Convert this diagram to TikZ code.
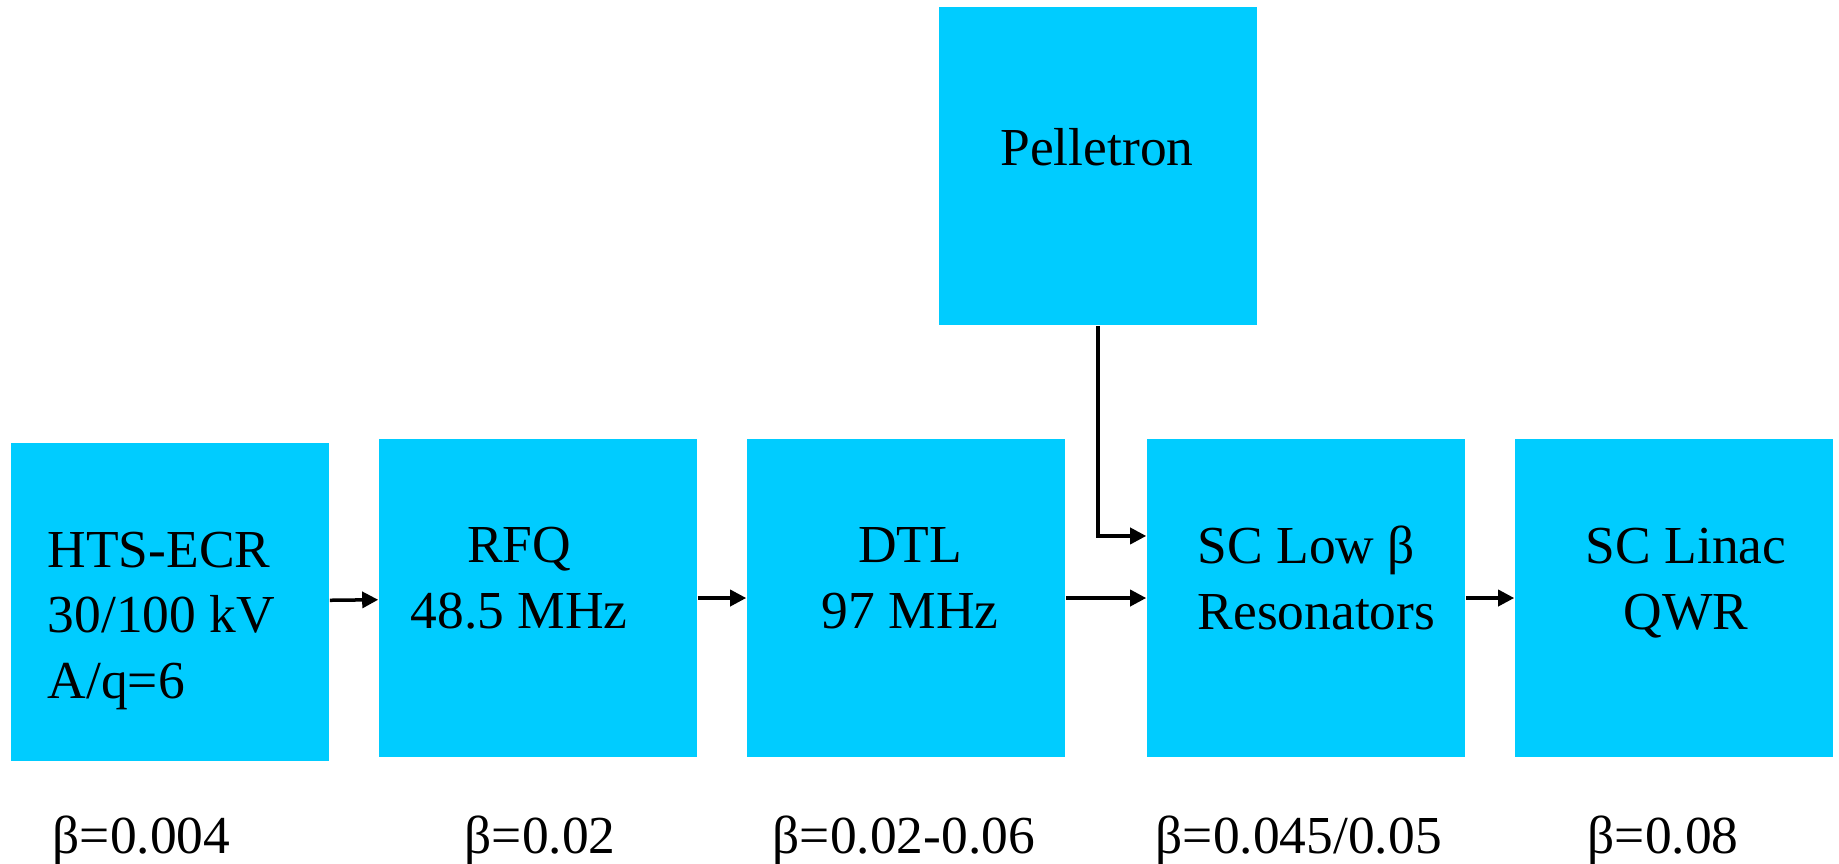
\documentclass[tikz,border=0pt]{standalone}
\usepackage{fontspec}
\setmainfont{Liberation Serif}
\usetikzlibrary{arrows.meta}
\definecolor{linacblue}{RGB}{0,204,255}
\tikzset{
  stage/.style={rectangle, fill=linacblue, minimum width=3.18cm, minimum height=3.18cm, inner sep=0pt},
  stagetext/.style={font=\fontsize{15.2}{18.5}\selectfont, inner sep=0pt},
  beam/.style={-{Triangle[length=0.16cm, width=0.16cm]}, line width=0.035cm},
}

\begin{document}
\begin{tikzpicture}[x=0.01cm, y=-0.01cm]
  \useasboundingbox (0,0) rectangle (1839,863);

  % Accelerator stages
  \node[stage] (ecr) at (170,602) {};
  \node[stage] (rfq) at (538,598) {};
  \node[stage] (dtl) at (906,598) {};
  \node[stage] (scl) at (1306,598) {};
  \node[stage] (lin) at (1674,598) {};
  \node[stage] (pel) at (1098,166) {};

  % Stage names (base = last line)
  \node[stagetext, align=left, anchor=base west] (ecrtxt) at (47,698) {HTS-ECR\\30/100 kV\\A/q=6};
  \node[stagetext, align=center, anchor=base] (rfqtxt) at (519,628) {RFQ\\48.5 MHz};
  \node[stagetext, align=center, anchor=base] (dtltxt) at (910,628) {DTL\\97 MHz};
  \node[stagetext, align=left, anchor=base west] (scltxt) at (1197,629) {SC Low β\\Resonators};
  \node[stagetext, align=center, anchor=base] (lintxt) at (1686,629) {SC Linac\\QWR};
  \node[stagetext, anchor=base] (peltxt) at (1097,165) {Pelletron};

  % Beam line
  \draw[beam] (ecr) -- (rfq);
  \draw[beam] (rfq) -- (dtl);
  \draw[beam] (dtl) -- (scl);
  \draw[beam] (scl) -- (lin);
  \draw[beam] (pel) |- ([yshift=0.62cm]scl.west);

  % Beam velocity after each stage
  \node[stagetext, anchor=base west] (becr) at (52,853) {β=0.004};
  \node[stagetext, anchor=base west] (brfq) at (464,853) {β=0.02};
  \node[stagetext, anchor=base west] (bdtl) at (772,853) {β=0.02-0.06};
  \node[stagetext, anchor=base west] (bscl) at (1155,853) {β=0.045/0.05};
  \node[stagetext, anchor=base west] (blin) at (1587,853) {β=0.08};
\end{tikzpicture}
\end{document}
